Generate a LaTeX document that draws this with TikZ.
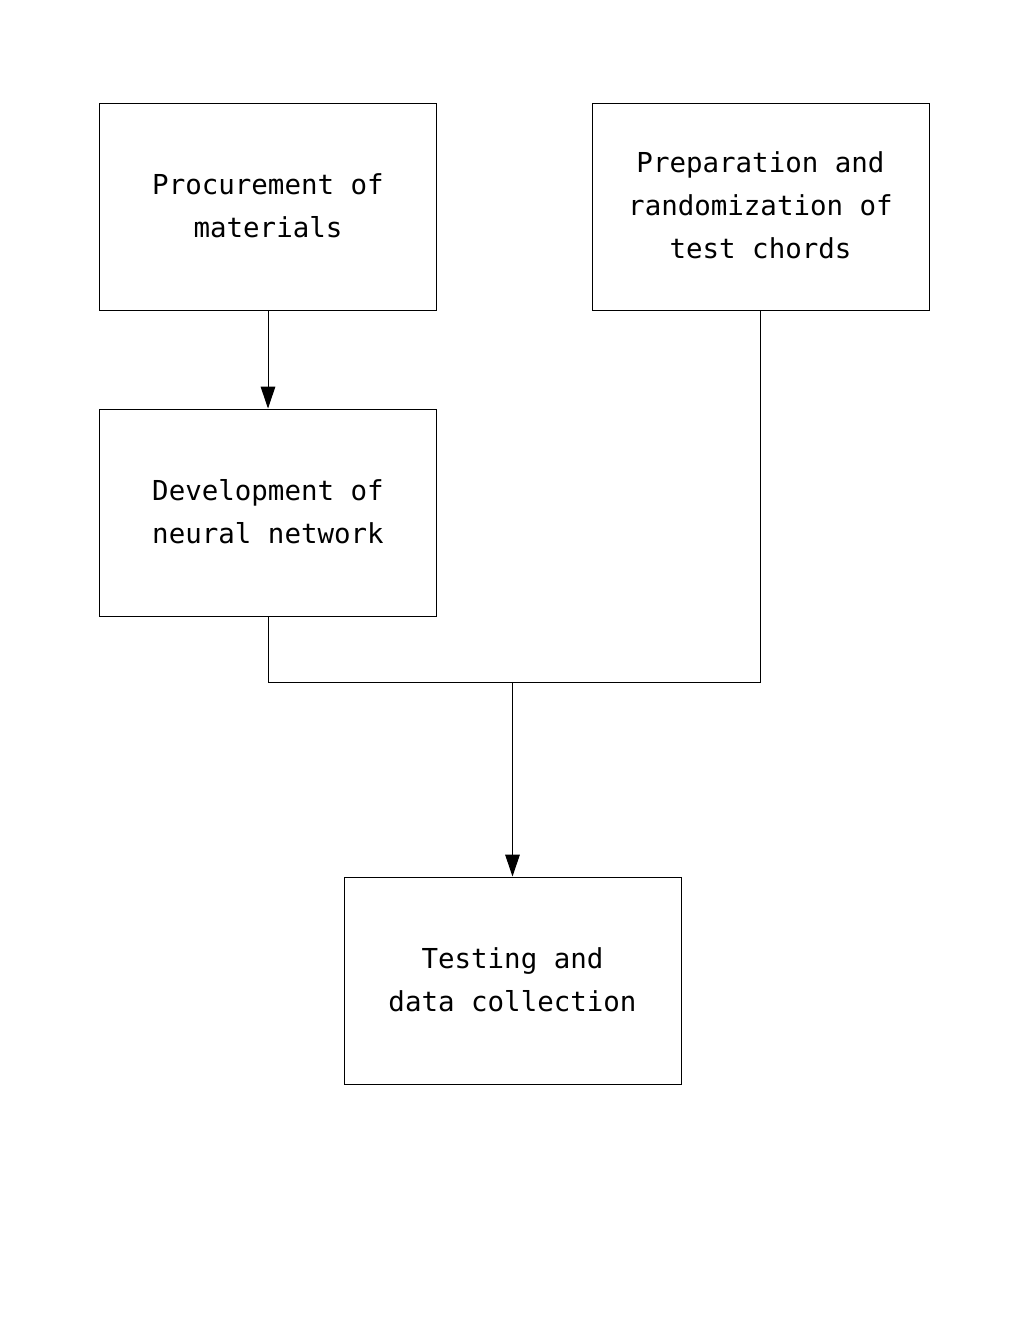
\documentclass[tikz,border=0pt]{standalone}
\usepackage{fontspec}
\setmonofont{DejaVu Sans Mono}
\usetikzlibrary{arrows.meta}

\tikzset{
    stepbox/.style={draw,line width=0.75pt,minimum width=252.75pt,minimum height=155.25pt,
        align=center,font=\ttfamily\fontsize{20.6}{32.25}\selectfont,inner sep=0pt,text depth=2pt},
    link/.style={line width=0.75pt},
    arr/.style={link,-{Triangle[length=16.5pt,width=11pt]}}
}

\begin{document}
\begin{tikzpicture}[x=0.75pt,y=-0.75pt]
    \useasboundingbox (0,0) rectangle (1020,1320);
    \node[stepbox] (proc) at (268,206.5) {Procurement of\\materials};
    \node[stepbox] (prep) at (760.5,206.5) {Preparation and\\randomization of\\test chords};
    \node[stepbox] (dev) at (268,512.5) {Development of\\neural network};
    \node[stepbox] (test) at (512.5,980.5) {Testing and\\data collection};
    \coordinate (join) at (512.5,682);
    \draw[arr] (proc) -- (dev);
    \draw[link] (dev.south) |- (join);
    \draw[link] (prep.south) |- (join);
    \draw[arr] (join) -- (test);
\end{tikzpicture}
\end{document}
